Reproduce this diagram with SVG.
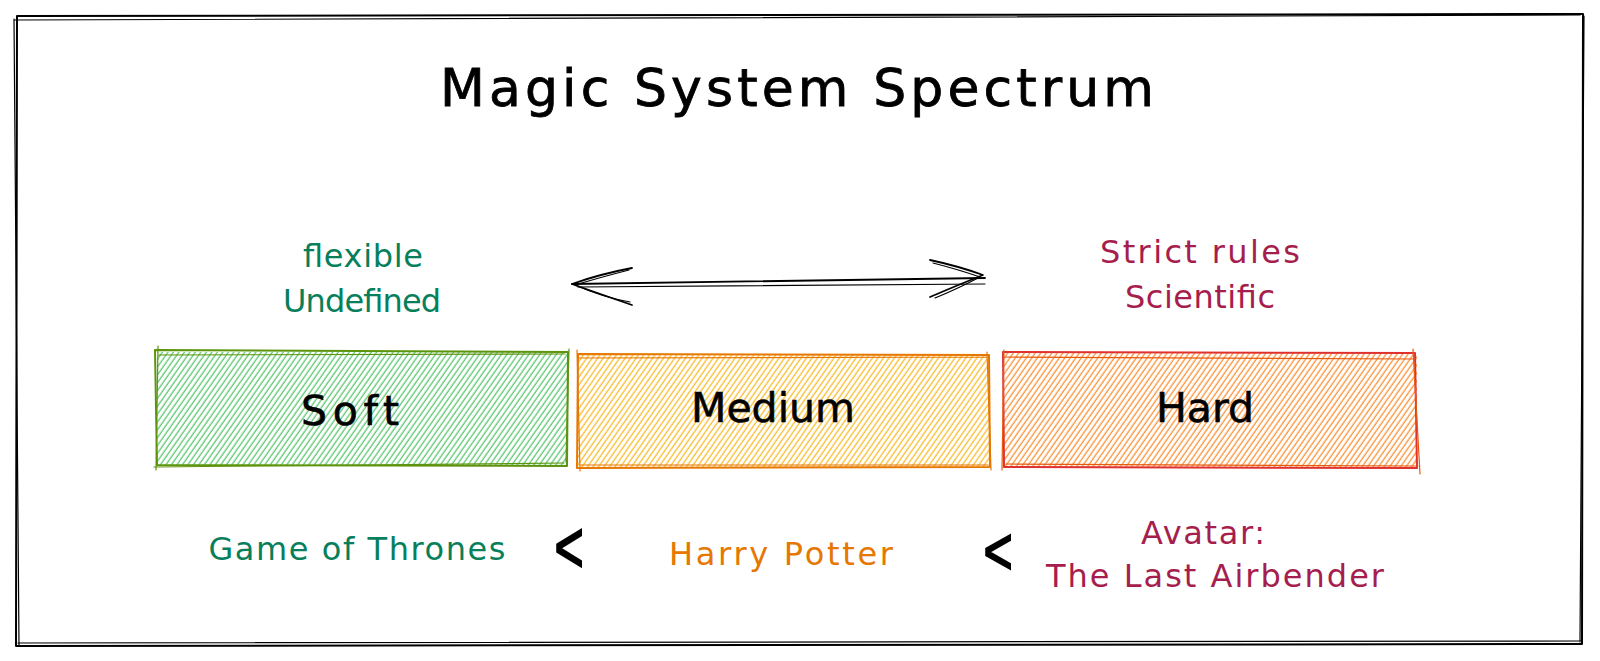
<svg xmlns="http://www.w3.org/2000/svg" width="1600" height="661" viewBox="0 0 1600 661">
<defs>
<pattern id="hGreen" patternUnits="userSpaceOnUse" width="4.5" height="10" patternTransform="rotate(35)"><line x1="2" y1="0" x2="2" y2="10" stroke="#40c057" stroke-width="1.1"/></pattern>
<pattern id="hYellow" patternUnits="userSpaceOnUse" width="4.5" height="10" patternTransform="rotate(35)"><line x1="2" y1="0" x2="2" y2="10" stroke="#fab005" stroke-width="1.1"/></pattern>
<pattern id="hOrange" patternUnits="userSpaceOnUse" width="4.5" height="10" patternTransform="rotate(35)"><line x1="2" y1="0" x2="2" y2="10" stroke="#fd7e14" stroke-width="1.1"/></pattern>
</defs>
<style>
.sk{fill:none;stroke-linecap:round;stroke-linejoin:round}
.t{font-family:"DejaVu Sans","Liberation Sans",sans-serif;text-anchor:middle}
.lbl{font-size:32px}
.box{font-size:41px;fill:#000;stroke:#000;stroke-width:0.6}
.green{fill:#087f5b}
.mag{fill:#a61e4d}
.orng{fill:#e67700}
.lt{font-family:"Liberation Sans",sans-serif;font-size:50px;text-anchor:middle;fill:#000;stroke:#000;stroke-width:1.5}
</style>
<rect width="1600" height="661" fill="#ffffff"/>

<g id="frame">
<path class="sk" stroke="#000" stroke-width="2" d="M17 16 L1583 14 L1582 644 L16 646 Z"/>
<path class="sk" stroke="#000" stroke-width="1.2" d="M15 20 L1580 15 M1584 16 L1580 642 M1582 641 L18 643 M19 646 L14 19"/>
</g>

<g id="title">
<text class="t" x="797" y="106" font-size="52" textLength="714" lengthAdjust="spacing" fill="#000" stroke="#000" stroke-width="0.8">Magic System Spectrum</text>
</g>

<g id="label-soft-traits">
<text class="t lbl green" x="363" y="267" textLength="120" lengthAdjust="spacing">flexible</text>
<text class="t lbl green" x="362" y="312" textLength="158" lengthAdjust="spacing">Undefined</text>
</g>

<g id="label-hard-traits">
<text class="t lbl mag" x="1200" y="263" textLength="200" lengthAdjust="spacing">Strict rules</text>
<text class="t lbl mag" x="1200" y="308" textLength="150" lengthAdjust="spacing">Scientific</text>
</g>

<g id="soft">
<rect x="157" y="352" width="411" height="113" fill="url(#hGreen)"/>
<path class="sk" stroke="#5c940d" stroke-width="2" d="M155 350 L568 352 L567 466 L157 465 Z"/>
<path class="sk" stroke="#5c940d" stroke-width="1.2" d="M159 355 L565 354 M569 349 L566 462 M564 463 L154 467 M156 470 L158 346"/>
<text class="t box" x="350" y="425" textLength="98" lengthAdjust="spacing">Soft</text>
</g>

<g id="medium">
<rect x="578" y="355" width="412" height="113" fill="url(#hYellow)"/>
<path class="sk" stroke="#e67700" stroke-width="2" d="M578 354 L989 355 L990 467 L577 468 Z"/>
<path class="sk" stroke="#e67700" stroke-width="1.2" d="M579 358 L987 357 M987 352 L991 470 M988 465 L580 465 M580 471 L577 350"/>
<text class="t box" x="773" y="422">Medium</text>
</g>

<g id="hard">
<rect x="1003" y="353" width="414" height="115" fill="url(#hOrange)"/>
<path class="sk" stroke="#e03131" stroke-width="2" d="M1003 352 L1415 353 L1417 468 L1004 467 Z"/>
<path class="sk" stroke="#e8590c" stroke-width="1.2" d="M1005 357 L1414 359 M1413 349 L1420 474 M1418 466 L1006 464 M1002 470 L1004 350"/>
<text class="t box" x="1205" y="422">Hard</text>
</g>

<g id="connectors">
<path class="sk" stroke="#000" stroke-width="1.8" d="M572 284 L985 278"/>
<path class="sk" stroke="#000" stroke-width="1.2" d="M578 287 L985 284"/>
<path class="sk" stroke="#000" stroke-width="1.8" d="M632 268 Q600 274 572 284 Q600 294 632 305"/>
<path class="sk" stroke="#000" stroke-width="1.2" d="M629 270 Q598 278 575 285 Q602 297 630 302"/>
<path class="sk" stroke="#000" stroke-width="1.8" d="M930 260 Q958 266 983 275 Q958 285 930 297"/>
<path class="sk" stroke="#000" stroke-width="1.2" d="M933 263 Q960 270 980 277 Q955 290 935 298"/>
</g>

<g id="example-soft">
<text class="t lbl green" x="357" y="560" textLength="297" lengthAdjust="spacing">Game of Thrones</text>
</g>
<g id="lt-1"><text class="lt" transform="translate(569 572) scale(1 1.45)">&lt;</text></g>
<g id="example-medium">
<text class="t lbl orng" x="781" y="565" textLength="224" lengthAdjust="spacing">Harry Potter</text>
</g>
<g id="lt-2"><text class="lt" transform="translate(998 574) scale(1 1.35)">&lt;</text></g>
<g id="example-hard">
<text class="t lbl mag" x="1203" y="544" textLength="124" lengthAdjust="spacing">Avatar:</text>
<text class="t lbl mag" x="1215" y="587" textLength="338" lengthAdjust="spacing">The Last Airbender</text>
</g>
</svg>
